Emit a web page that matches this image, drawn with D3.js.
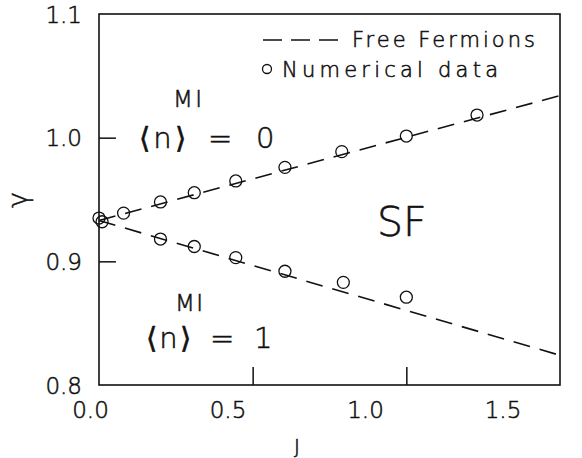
<!DOCTYPE html>
<html>
<head>
<meta charset="utf-8">
<script src="https://cdn.jsdelivr.net/npm/d3@7"></script>
<style>
  html, body { margin: 0; padding: 0; background: #fff; }
  svg { display: block; }
  text { font-family: "DejaVu Sans", "Liberation Sans", sans-serif; font-weight: 200; fill: #111; stroke: #111; stroke-width: 0.55px; }
</style>
</head>
<body>
<svg id="chart" width="582" height="458"></svg>
<script>
// ---- data ----
const xTicks = [0.0, 0.5, 1.0, 1.5];
const yTicks = [0.8, 0.9, 1.0, 1.1];
const xTickLabels = ["0.0", "0.5", "1.0", "1.5"];
const yTickLabels = ["0.8", "0.9", "1.0", "1.1"];

const upperJ = [0.0, 0.08, 0.2, 0.31, 0.445, 0.605, 0.79, 1.0, 1.23];
const upperGamma = [0.935, 0.939, 0.948, 0.9555, 0.965, 0.976, 0.9887, 1.0013, 1.0183];
const lowerJ = [0.01, 0.2, 0.31, 0.445, 0.605, 0.795, 1.0];
const lowerGamma = [0.932, 0.918, 0.912, 0.903, 0.892, 0.883, 0.871];

const ffJ = [0.0, 1.5];
const ffUpper = [0.933, 1.034];
const ffLower = [0.933, 0.824];

const legendLabels = ["Free Fermions", "Numerical data"];

// ---- layout ----
const svg = d3.select("#chart");
const pLeft = 99, pRight = 560, pTop = 14, pBottom = 385;

const x = d3.scaleLinear().domain([0, 1.5]).range([pLeft, pRight]);
const y = d3.scaleLinear().domain([0.8, 1.1]).range([pBottom, pTop]);
// tick labels in the original sit on a slightly compressed scale
const xLab = d3.scaleLinear().domain([0, 1.5]).range([90, 502.5]);

const ink = "#111";
const FONT = '"DejaVu Sans", "Liberation Sans", sans-serif';

// frame
svg.append("rect")
  .attr("x", pLeft).attr("y", pTop)
  .attr("width", pRight - pLeft).attr("height", pBottom - pTop)
  .attr("fill", "none").attr("stroke", ink).attr("stroke-width", 1.6);

// inner ticks
const xAxis = d3.axisBottom(x).tickValues([0.5, 1.0]).tickSize(-18).tickFormat("");
const gx = svg.append("g").attr("transform", `translate(0,${pBottom})`).call(xAxis);
gx.select(".domain").remove();
gx.selectAll("line").attr("stroke", ink).attr("stroke-width", 1.5);

const yAxis = d3.axisLeft(y).tickValues([0.9, 1.0]).tickSize(-17).tickFormat("");
const gy = svg.append("g").attr("transform", `translate(${pLeft},0)`).call(yAxis);
gy.select(".domain").remove();
gy.selectAll("line").attr("stroke", ink).attr("stroke-width", 1.5);

// tick labels
const gxl = svg.append("g").attr("transform", `translate(0,${pBottom})`)
  .call(d3.axisBottom(xLab).tickValues(xTicks).tickSize(0).tickPadding(0)
        .tickFormat((d, i) => xTickLabels[i]));
gxl.select(".domain").remove();
gxl.selectAll("text").attr("font-size", 23)
  .attr("dy", null).attr("y", 33).attr("fill", ink)
  .style("font-family", FONT).style("font-weight", 200);

const gyl = svg.append("g").attr("transform", `translate(${pLeft},0)`)
  .call(d3.axisLeft(y).tickValues(yTicks).tickSize(0).tickPadding(17)
        .tickFormat((d, i) => yTickLabels[i]));
gyl.select(".domain").remove();
gyl.selectAll("text").attr("font-size", 23)
  .attr("dy", "0.36em").attr("fill", ink)
  .style("font-family", FONT).style("font-weight", 200);

// free-fermion lines
const line = d3.line().x(d => x(d[0])).y(d => y(d[1]));
[ffUpper, ffLower].forEach(arr => {
  svg.append("path")
    .datum(ffJ.map((j, i) => [j, arr[i]]))
    .attr("d", line)
    .attr("fill", "none").attr("stroke", ink)
    .attr("stroke-width", 1.6).attr("stroke-dasharray", "17,10");
});

// numerical data circles
const pts = upperJ.map((j, i) => [j, upperGamma[i]])
  .concat(lowerJ.map((j, i) => [j, lowerGamma[i]]));
svg.append("g").selectAll("circle").data(pts).join("circle")
  .attr("cx", d => x(d[0])).attr("cy", d => y(d[1]))
  .attr("r", 6).attr("fill", "none").attr("stroke", ink).attr("stroke-width", 1.3);

// legend
svg.append("line").attr("x1", 263).attr("x2", 339).attr("y1", 40).attr("y2", 40)
  .attr("stroke", ink).attr("stroke-width", 1.6).attr("stroke-dasharray", "19,9");
svg.append("text").attr("x", 352).attr("y", 47).attr("font-size", 21)
  .attr("textLength", 183).attr("lengthAdjust", "spacing").text(legendLabels[0]);
svg.append("circle").attr("cx", 267).attr("cy", 69).attr("r", 4.5)
  .attr("fill", "none").attr("stroke", ink).attr("stroke-width", 1.3);
svg.append("text").attr("x", 282).attr("y", 77).attr("font-size", 21)
  .attr("textLength", 216).attr("lengthAdjust", "spacing").text(legendLabels[1]);

// region annotations
function label(txt, xx, yy, size, len) {
  const t = svg.append("text").attr("x", xx).attr("y", yy).attr("font-size", size).text(txt);
  if (len) t.attr("textLength", len).attr("lengthAdjust", "spacing");
  return t;
}
label("MI", 173, 107, 23, 29);
label("\u27E8n\u27E9", 139, 148, 29, 47);
label("=", 208, 148, 29);
label("0", 256, 148, 29);

label("MI", 175, 311, 23, 28);
label("\u27E8n\u27E9", 146, 348, 29, 45);
label("=", 210, 348, 29);
label("1", 254, 348, 29);

label("SF", 377, 236, 41);

// axis titles
svg.append("text").attr("transform", "translate(27,200) rotate(-90)")
  .attr("text-anchor", "middle").attr("font-size", 27).text("\u03B3");
svg.append("text").attr("x", 297).attr("y", 453).attr("text-anchor", "middle")
  .attr("font-size", 20).text("J");
</script>
</body>
</html>
